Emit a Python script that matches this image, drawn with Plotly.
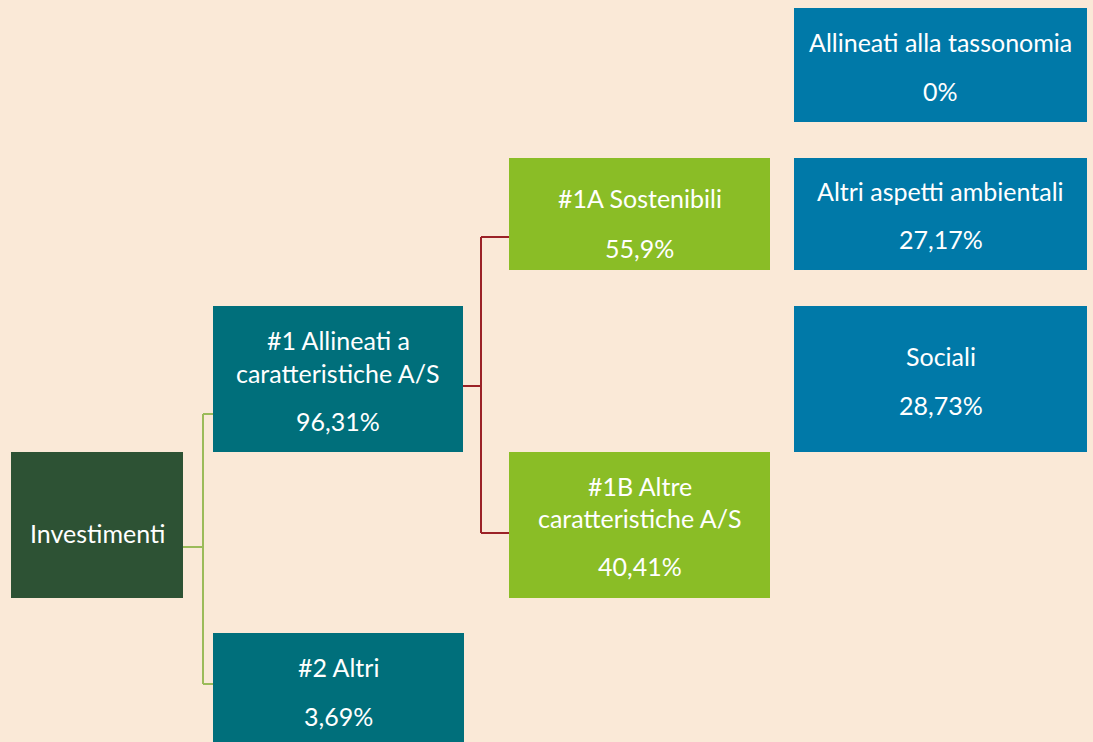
import plotly.graph_objects as go

# ---- data ----
node_ids = ["inv", "a1", "a2", "a1a", "a1b", "tax", "env", "soc"]
node_titles = [
    ["Investimenti"],
    ["#1 Allineati a", "caratteristiche A/S"],
    ["#2 Altri"],
    ["#1A Sostenibili"],
    ["#1B Altre", "caratteristiche A/S"],
    ["Allineati alla tassonomia"],
    ["Altri aspetti ambientali"],
    ["Sociali"],
]
node_values = ["", "96,31%", "3,69%", "55,9%", "40,41%", "0%", "27,17%", "28,73%"]

# ---- layout (pixel geometry) ----
W, H = 1093, 742
BG = "#FAE9D7"
DARK = "#2D5234"
TEAL = "#006F7B"
LIME = "#8ABD26"
BLUE = "#0079A8"

geom = {
    "inv": dict(x0=11, x1=183, y0=452, y1=598, color=DARK, lines=[533], val=None),
    "a1": dict(x0=213, x1=463, y0=306, y1=452, color=TEAL, lines=[340, 373], val=421),
    "a2": dict(x0=213, x1=464, y0=633, y1=745, color=TEAL, lines=[667], val=716),
    "a1a": dict(x0=509, x1=770, y0=158, y1=270, color=LIME, lines=[198], val=248),
    "a1b": dict(x0=509, x1=770, y0=452, y1=598, color=LIME, lines=[486, 518], val=566),
    "tax": dict(x0=794, x1=1087, y0=8, y1=122, color=BLUE, lines=[42], val=91),
    "env": dict(x0=794, x1=1087, y0=158, y1=270, color=BLUE, lines=[191], val=239),
    "soc": dict(x0=794, x1=1087, y0=306, y1=452, color=BLUE, lines=[356], val=405),
}

FONT = "Lato, 'Noto Sans', sans-serif"
FS = 25

fig = go.Figure()
shapes = []
annotations = []

def conn(path, color):
    shapes.append(dict(type="path", path=path, line=dict(color=color, width=2),
                       xref="x", yref="y", layer="below"))

conn("M183,547 L203,547 M203,414 L203,684 M203,414 L213,414 M203,684 L213,684", "#9BBB59")
conn("M463,386 L481,386 M481,237 L481,533 M481,237 L509,237 M481,533 L509,533", "#9B2226")

for nid, titles, val in zip(node_ids, node_titles, node_values):
    g = geom[nid]
    shapes.append(dict(type="rect", x0=g["x0"], x1=g["x1"], y0=g["y0"], y1=g["y1"],
                       fillcolor=g["color"], line=dict(width=0), xref="x", yref="y",
                       layer="above"))
    cx = (g["x0"] + g["x1"]) / 2
    for t, ty in zip(titles, g["lines"]):
        annotations.append(dict(x=cx, y=ty, text=t, showarrow=False, xref="x", yref="y",
                                font=dict(family=FONT, size=FS, color="white"),
                                xanchor="center", yanchor="middle"))
    if g["val"] is not None and val:
        annotations.append(dict(x=cx, y=g["val"], text=val, showarrow=False, xref="x", yref="y",
                                font=dict(family=FONT, size=FS, color="white"),
                                xanchor="center", yanchor="middle"))

fig.add_trace(go.Scatter(x=[0, W], y=[0, H], mode="markers", marker=dict(opacity=0),
                         hoverinfo="skip", showlegend=False))

fig.update_layout(
    width=W, height=H,
    margin=dict(l=0, r=0, t=0, b=0),
    paper_bgcolor=BG, plot_bgcolor=BG,
    xaxis=dict(range=[0, W], visible=False, fixedrange=True),
    yaxis=dict(range=[H, 0], visible=False, fixedrange=True),
    shapes=shapes, annotations=annotations,
    showlegend=False,
)

fig.write_html("out.html", config={"displayModeBar": False},
               post_script="document.body.style.margin='0';document.body.style.overflow='hidden';document.body.style.background='" + BG + "';")
